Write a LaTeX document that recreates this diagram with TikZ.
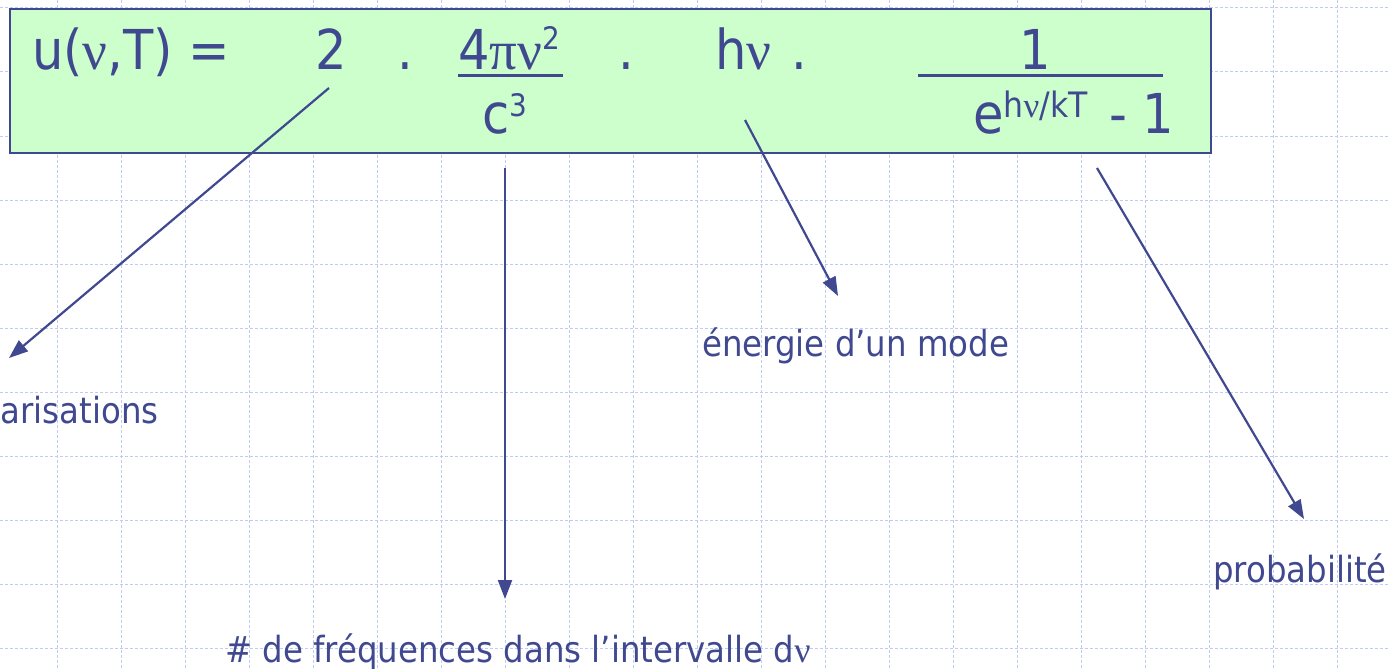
\documentclass[tikz,border=0pt]{standalone}
\usepackage{fontspec}
\setmainfont{DejaVu Sans Condensed}
\newfontfamily\symf{Liberation Serif}
\usetikzlibrary{arrows.meta}
\definecolor{ink}{RGB}{64,72,144}
\definecolor{boxfill}{RGB}{204,255,204}
\definecolor{gridc}{RGB}{190,202,248}
\newcommand\gnu{{\symf ν}}
\newcommand\gpi{{\symf π}}
\newcommand\supx[3]{\raisebox{#1}{\fontsize{#2}{#2}\selectfont #3}}
\begin{document}
\begin{tikzpicture}[x=1pt,y=-1pt,
 big/.style={font=\fontsize{55}{55}\selectfont, text=ink, inner sep=0pt, anchor=base west},
 lab/.style={font=\fontsize{36}{36}\selectfont, text=ink, inner sep=0pt, anchor=base west},
 conn/.style={draw=ink, line width=2.2pt, -{Triangle[length=19pt,width=14pt]}},
 gridline/.style={draw=gridc, line width=1pt, dash pattern=on 3pt off 2pt},
 fracbar/.style={draw=ink, line width=3pt},
]
\useasboundingbox (0,0) rectangle (1390,669);
\foreach \i in {0,...,20} \draw[gridline] (57+64*\i,0) -- (57+64*\i,669);
\foreach \j in {0,...,10} \draw[gridline] (0,8+64*\j) -- (1390,8+64*\j);
\node[draw=ink, line width=2pt, fill=boxfill, minimum width=1201pt, minimum height=144pt, anchor=north west, inner sep=0pt] (box) at (9,8) {};
% formula
\node[big] (lhs) at (32,70) {u(\gnu,T) =};
\node[big] (two) at (315,70) {2};
\node[big] (d1) at (397,70) {.};
\node[big] (num) at (458,70) {4\gpi\gnu\supx{20pt}{31}{2}};
\draw[fracbar] (458,76) -- (563,76);
\node[big] (den) at (482,133) {c\supx{17pt}{31}{3}};
\node[big] (d2) at (618,70) {.};
\node[big] (hnu) at (715,70) {h\gnu};
\node[big] (d3) at (791,70) {.};
\node[big, anchor=base] (one) at (1035,70) {1};
\draw[fracbar] (918,76) -- (1163,76);
\node[big] (expo) at (973,133) {e\supx{16pt}{35}{h\gnu/kT}};
\node[big] (mone) at (1109,133) {- 1};
% labels
\node[lab] (pol) at (0.5,423) {arisations};
\node[lab] (freq) at (225,662) {\# de fréquences dans l’intervalle d\gnu};
\node[lab] (ener) at (702,356) {énergie d’un mode};
\node[lab] (prob) at (1213,582) {probabilité};
% connectors
\coordinate (s1) at (329,88); \coordinate (e1) at (9,358);
\coordinate (s2) at (505,168); \coordinate (e2) at (505,599);
\coordinate (s3) at (745,120); \coordinate (e3) at (838,296);
\coordinate (s4) at (1097,168); \coordinate (e4) at (1304,519);
\draw[conn] (s1) -- (e1);
\draw[conn] (s2) -- (e2);
\draw[conn] (s3) -- (e3);
\draw[conn] (s4) -- (e4);
\end{tikzpicture}
\end{document}
